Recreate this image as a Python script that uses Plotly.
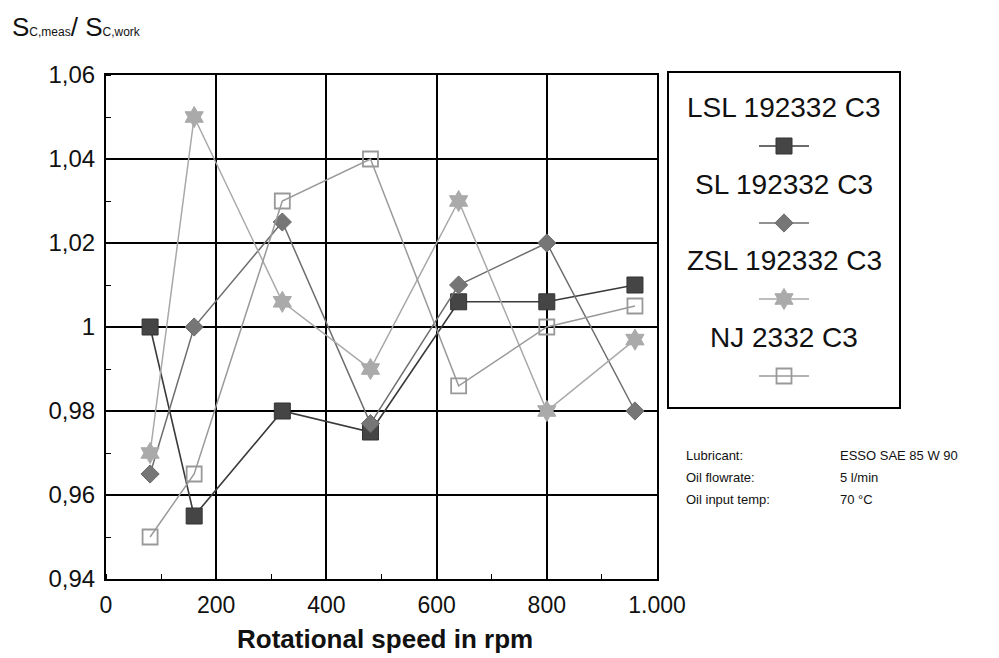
import plotly.graph_objects as go

OFF = 8                      # page body margin in the browser
W, H = 999 - OFF, 658 - OFF  # figure size so it fits the viewport

speeds = [80, 160, 320, 480, 640, 800, 960]
lsl = [1.000, 0.955, 0.980, 0.975, 1.006, 1.006, 1.010]
sl = [0.965, 1.000, 1.025, 0.977, 1.010, 1.020, 0.980]
zsl = [0.970, 1.050, 1.006, 0.990, 1.030, 0.980, 0.997]
nj = [0.950, 0.965, 1.030, 1.040, 0.986, 1.000, 1.005]

series_names = ["LSL 192332 C3", "SL 192332 C3", "ZSL 192332 C3", "NJ 2332 C3"]
y_tickvals = [0.94, 0.96, 0.98, 1.00, 1.02, 1.04, 1.06]
y_ticktext = ["0,94", "0,96", "0,98", "1", "1,02", "1,04", "1,06"]
x_tickvals = [0, 200, 400, 600, 800, 1000]
x_ticktext = ["0", "200", "400", "600", "800", "1.000"]

info_labels = ["Lubricant:", "Oil flowrate:", "Oil input temp:"]
info_values = ["ESSO SAE 85 W 90", "5 l/min", "70 °C"]

styles = [
    dict(line=dict(color="#3a3a3a", width=1.6),
         marker=dict(symbol="square", size=16, color="#454545", line=dict(color="#333", width=1))),
    dict(line=dict(color="#6e6e6e", width=1.5),
         marker=dict(symbol="diamond", size=14, color="#767676", line=dict(color="#6a6a6a", width=1))),
    dict(line=dict(color="#a8a8a8", width=1.5),
         marker=dict(symbol="hexagram", size=16, color="#aaaaaa", line=dict(color="#aaaaaa", width=1))),
    dict(line=dict(color="#9a9a9a", width=1.5),
         marker=dict(symbol="square-open", size=15, color="#999999", line=dict(color="#999999", width=1.8))),
]

FONT = "Liberation Sans, Arial, sans-serif"

# reference-pixel geometry
plot_left, plot_right, plot_top, plot_bot = 106, 657, 75, 579
leg_left, leg_right, leg_top, leg_bot = 668, 900, 72, 408

ML = plot_left - OFF
MR = W - (leg_right - OFF)
MT = leg_top - OFF
MB = H - (plot_bot - OFF)
PW, PH = W - ML - MR, H - MT - MB


def fx(px):
    return (px - OFF - ML) / PW


def fy(py):
    return (H - MB - (py - OFF)) / PH


fig = go.Figure()
for name, ys, st in zip(series_names, [lsl, sl, zsl, nj], styles):
    fig.add_trace(go.Scatter(x=speeds, y=ys, mode="lines+markers", name=name,
                             line=st["line"], marker=st["marker"], showlegend=False,
                             xaxis="x", yaxis="y"))

# custom legend: sample line + marker below each label
label_y = [107, 184, 260, 337]
cx = (leg_left + leg_right) / 2
for name, ly, st in zip(series_names, label_y, styles):
    sy = ly + 39
    fig.add_trace(go.Scatter(x=[cx - 25, cx + 25], y=[sy, sy], mode="lines",
                             line=st["line"], showlegend=False, xaxis="x2", yaxis="y2",
                             hoverinfo="skip"))
    fig.add_trace(go.Scatter(x=[cx], y=[sy], mode="markers", marker=st["marker"],
                             showlegend=False, xaxis="x2", yaxis="y2", hoverinfo="skip"))

annotations = []
for name, ly in zip(series_names, label_y):
    annotations.append(dict(text=name, x=fx(cx), y=fy(ly), xref="paper", yref="paper",
                            showarrow=False, xanchor="center", yanchor="middle",
                            font=dict(family=FONT, size=28, color="#111")))
for i, (lab, val) in enumerate(zip(info_labels, info_values)):
    yy = fy(455 + 22 * i)
    annotations.append(dict(text=lab, x=fx(684), y=yy, xref="paper", yref="paper",
                            showarrow=False, xanchor="left", yanchor="middle",
                            font=dict(family=FONT, size=13, color="#111")))
    annotations.append(dict(text=val, x=fx(838), y=yy, xref="paper", yref="paper",
                            showarrow=False, xanchor="left", yanchor="middle",
                            font=dict(family=FONT, size=13, color="#111")))
annotations.append(dict(
    text='S<span style="font-size:12px">C,meas</span>/ S<span style="font-size:12px">C,work</span>',
    x=fx(10), y=fy(27), xref="paper", yref="paper", showarrow=False,
    xanchor="left", yanchor="middle", font=dict(family=FONT, size=26, color="#111")))
annotations.append(dict(text="<b>Rotational speed in rpm</b>", x=fx(385), y=fy(639),
                        xref="paper", yref="paper", showarrow=False,
                        xanchor="center", yanchor="middle",
                        font=dict(family=FONT, size=26, color="#111")))

fig.update_layout(
    width=W, height=H, autosize=False,
    margin=dict(l=ML, r=MR, t=MT, b=MB, pad=0, autoexpand=False),
    paper_bgcolor="white", plot_bgcolor="white",
    font=dict(family=FONT, color="#111"),
    xaxis=dict(domain=[0, fx(plot_right)], range=[0, 1000], automargin=False,
               tickvals=x_tickvals, ticktext=x_ticktext, ticklabelstandoff=4,
               tickfont=dict(family=FONT, size=23, color="#111"),
               showgrid=True, gridcolor="black", gridwidth=2,
               showline=True, linecolor="black", linewidth=2, mirror=True,
               zeroline=False, ticks="",
               minor=dict(dtick=100, tick0=0, ticks="inside", ticklen=5,
                          tickcolor="black", showgrid=False)),
    yaxis=dict(domain=[0, fy(plot_top)], range=[0.94, 1.06], automargin=False,
               tickvals=y_tickvals, ticktext=y_ticktext, ticklabelstandoff=4,
               tickfont=dict(family=FONT, size=24, color="#111"),
               showgrid=True, gridcolor="black", gridwidth=2,
               showline=True, linecolor="black", linewidth=2, mirror=True,
               zeroline=False, ticks="",
               minor=dict(dtick=0.01, tick0=0.94, ticks="inside", ticklen=5,
                          tickcolor="black", showgrid=False)),
    xaxis2=dict(domain=[fx(leg_left), fx(leg_right)], range=[leg_left, leg_right],
                visible=False, anchor="y2", automargin=False),
    yaxis2=dict(domain=[fy(leg_bot), fy(leg_top)], range=[leg_bot, leg_top],
                visible=False, anchor="x2", automargin=False),
    shapes=[dict(type="rect", xref="paper", yref="paper",
                 x0=fx(leg_left), x1=fx(leg_right),
                 y0=fy(leg_bot), y1=fy(leg_top),
                 line=dict(color="black", width=2), fillcolor="rgba(0,0,0,0)")],
    annotations=annotations,
)

fig.write_html("out.html")
